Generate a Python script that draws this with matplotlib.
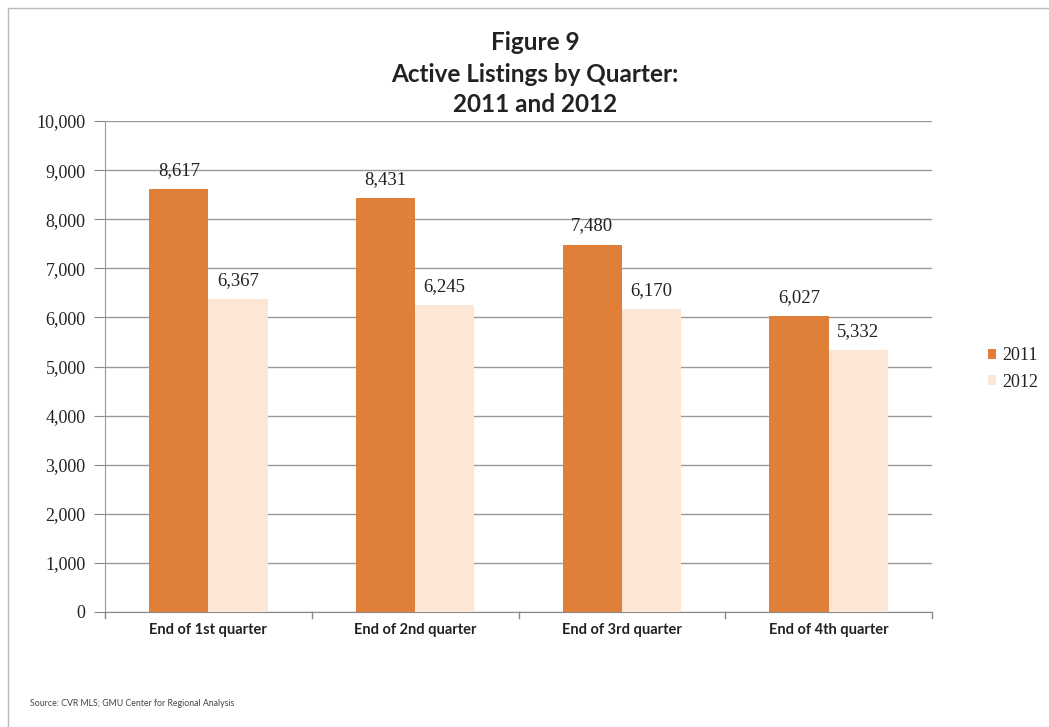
import numpy as np
import matplotlib
matplotlib.use("Agg")
import matplotlib.pyplot as plt
from matplotlib.patches import Rectangle

quarters = ["End of 1st quarter", "End of 2nd quarter",
            "End of 3rd quarter", "End of 4th quarter"]
listings_2011 = [8617, 8431, 7480, 6027]
listings_2012 = [6367, 6245, 6170, 5332]
years = ["2011", "2012"]

COLOR_2011 = "#E07F38"
COLOR_2012 = "#FCE6D6"
TEXT_FONT = ["Lato", "DejaVu Sans"]
NUM_FONT = ["Liberation Serif", "DejaVu Serif"]

fig = plt.figure(figsize=(10.49, 7.27), dpi=100)
fig.patch.set_facecolor("white")

# chart frame
fig.patches.append(Rectangle((8 / 1049, -0.05), 1.1, 1 - 8 / 727 + 0.05,
                             transform=fig.transFigure, fill=False,
                             edgecolor="#BBBBBB", linewidth=1.0))

ax = fig.add_axes([105 / 1049, 1 - 612 / 727, 827 / 1049, 491 / 727])

x = np.arange(len(quarters))
w = 0.286
bars1 = ax.bar(x - w / 2, listings_2011, w, color=COLOR_2011, label=years[0], zorder=3)
bars2 = ax.bar(x + w / 2, listings_2012, w, color=COLOR_2012, label=years[1], zorder=3)

for bars in (bars1, bars2):
    for b in bars:
        v = b.get_height()
        ax.text(b.get_x() + b.get_width() / 2, v + 380, "{:,}".format(int(v)),
                ha="center", va="center", fontsize=13.5, family=NUM_FONT,
                color="#222222")

ax.set_xlim(-0.5, len(quarters) - 0.5)
ax.set_ylim(0, 10000)
ax.set_yticks(np.arange(0, 10001, 1000))
ax.set_yticklabels(["{:,}".format(t) for t in range(0, 10001, 1000)],
                   family=NUM_FONT, fontsize=13, color="#222222")
ax.set_xticks(x)
ax.set_xticklabels(quarters, family=TEXT_FONT, fontsize=10.5, fontweight="bold",
                   color="#222222")
ax.tick_params(axis="x", length=0, pad=8)
ax.tick_params(axis="y", length=8, color="#888888", pad=6)

# category separators on the x axis
for xb in np.arange(-0.5, len(quarters), 1.0):
    ax.plot([xb, xb], [0, -120], color="#888888", lw=1, clip_on=False)

ax.yaxis.grid(True, color="#999999", linewidth=1.0, zorder=0)
for s in ("top", "right"):
    ax.spines[s].set_visible(False)
ax.spines["left"].set_color("#999999")
ax.spines["bottom"].set_color("#888888")

title_lines = ["Figure 9", "Active Listings by Quarter:", "2011 and 2012"]
for line, ypx in zip(title_lines, [42, 74, 105]):
    fig.text(0.51, 1 - ypx / 727, line, ha="center", va="center",
             fontsize=17.5, fontweight="bold", family=TEXT_FONT, color="#222222")

leg = fig.legend(handles=[bars1, bars2], labels=years, loc="center left",
                 bbox_to_anchor=(972 / 1049, 1 - 369 / 727), frameon=False,
                 handlelength=0.45, handleheight=0.45, handletextpad=0.3,
                 labelspacing=0.5, prop={"family": NUM_FONT, "size": 13})
for t in leg.get_texts():
    t.set_color("#222222")

fig.text(30 / 1049, 1 - 704 / 727, "Source: CVR MLS; GMU Center for Regional Analysis",
         ha="left", va="center", fontsize=6.3, family=TEXT_FONT, color="#444444")

fig.savefig("out.png", dpi=100)
